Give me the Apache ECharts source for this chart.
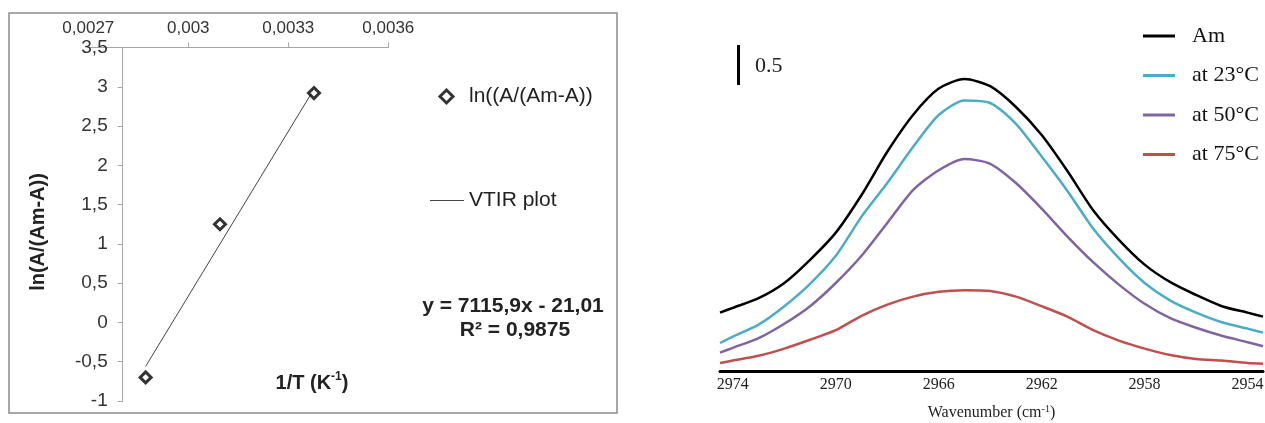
<!DOCTYPE html>
<html>
<head>
<meta charset="utf-8">
<script src="https://cdn.jsdelivr.net/npm/echarts@6/dist/echarts.min.js"></script>
<style>
html,body{margin:0;padding:0;background:#fff;}
#chart{width:1265px;height:423px;}
</style>
</head>
<body>
<div id="chart"></div>
<script>
// ---------- Left chart data (Arrhenius-type plot) ----------
const invT = [0.002872, 0.003095, 0.003377];
const lnRatio = [-0.70, 1.25, 2.92];
const trendX = [0.002872, 0.003377];
const trendY = [-0.56, 2.97];
const leftXTicks = [0.0027, 0.0030, 0.0033, 0.0036];
const leftXTickLabels = ['0,0027', '0,003', '0,0033', '0,0036'];
const leftYTickLabels = ['-1', '-0,5', '0', '0,5', '1', '1,5', '2', '2,5', '3', '3,5'];
const pointsName = 'ln((A/(Am-A))';
const trendName = 'VTIR plot';
const equationText = 'y = 7115,9x - 21,01';
const r2Text = 'R² = 0,9875';

// ---------- Right chart data (IR spectra) ----------
const wavenumber = [2974.5, 2974, 2973, 2972, 2971, 2970, 2969, 2968, 2967, 2966, 2965, 2964, 2963, 2962, 2961, 2960, 2959, 2958, 2957, 2956, 2955, 2954, 2953.4];
const absAm  = [0.73, 0.79, 0.91, 1.10, 1.39, 1.73, 2.20, 2.74, 3.20, 3.53, 3.65, 3.56, 3.30, 2.95, 2.50, 2.01, 1.64, 1.33, 1.11, 0.95, 0.81, 0.73, 0.68];
const abs23  = [0.35, 0.43, 0.58, 0.81, 1.09, 1.44, 1.93, 2.35, 2.80, 3.20, 3.38, 3.35, 3.09, 2.68, 2.25, 1.78, 1.41, 1.10, 0.88, 0.73, 0.61, 0.53, 0.48];
const abs50  = [0.23, 0.29, 0.41, 0.59, 0.81, 1.10, 1.44, 1.85, 2.26, 2.51, 2.65, 2.59, 2.35, 2.03, 1.68, 1.36, 1.08, 0.84, 0.66, 0.54, 0.44, 0.36, 0.31];
const abs75  = [0.10, 0.13, 0.19, 0.28, 0.39, 0.51, 0.69, 0.83, 0.93, 0.99, 1.01, 1.00, 0.93, 0.81, 0.68, 0.51, 0.38, 0.28, 0.20, 0.15, 0.13, 0.10, 0.09];
const spectraNames = ['Am', 'at 23°C', 'at 50°C', 'at 75°C'];
const rightXTicks = [2974, 2970, 2966, 2962, 2958, 2954];
const scaleBarX = 2973.8;
const scaleBarBottom = 3.575;
const scaleBarLength = 0.5;
const scaleBarLabel = '0.5';

const pair = (xs, ys) => xs.map((x, i) => [x, ys[i]]);

const chart = echarts.init(document.getElementById('chart'), null, {renderer: 'canvas'});
const sans = 'Liberation Sans, Arial, sans-serif';
const serif = 'Liberation Serif, Times New Roman, serif';
const axisGray = '#a6a6a6';

const option = {
  animation: false,
  backgroundColor: '#fff',
  grid: [
    {left: 88.3, top: 47.5, width: 300, height: 353.5, containLabel: false, outerBoundsMode: 'none'},
    {left: 720, top: 35, width: 543, height: 336, containLabel: false, outerBoundsMode: 'none'}
  ],
  xAxis: [
    {
      gridIndex: 0, type: 'value', position: 'top',
      min: 0.0027, max: 0.0036, interval: 0.0003,
      axisLine: {show: true, onZero: false, lineStyle: {color: axisGray, width: 1}},
      axisTick: {show: true, length: 5, customValues: leftXTicks.slice(1), lineStyle: {color: axisGray}},
      axisLabel: {
        fontFamily: sans, fontSize: 17, color: '#333', margin: 11,
        formatter: (v, i) => leftXTickLabels[i]
      },
      splitLine: {show: false}
    },
    {
      gridIndex: 1, type: 'value', inverse: true,
      min: 2953.4, max: 2974.5,
      axisLine: {show: true, onZero: false, lineStyle: {color: '#000', width: 3}},
      axisTick: {show: false},
      axisLabel: {customValues: rightXTicks, fontFamily: serif, fontSize: 16, color: '#222', margin: 6,
        formatter: v => String(v)},
      splitLine: {show: false},
      name: '{a|Wavenumber (cm}{s|-1}{a|)}',
      nameLocation: 'middle', nameGap: 33,
      nameTextStyle: {
        rich: {
          a: {fontFamily: serif, fontSize: 16, color: '#222', lineHeight: 18},
          s: {fontFamily: serif, fontSize: 10, color: '#222', verticalAlign: 'top', lineHeight: 12}
        }
      }
    }
  ],
  yAxis: [
    {
      gridIndex: 0, type: 'value', min: -1, max: 3.5, interval: 0.5, offset: -34.4,
      axisLine: {show: true, onZero: false, lineStyle: {color: axisGray, width: 1}},
      axisTick: {show: true, length: 5, lineStyle: {color: axisGray}},
      axisLabel: {fontFamily: sans, fontSize: 19, color: '#333', margin: 15,
        formatter: (v, i) => leftYTickLabels[i]},
      splitLine: {show: false}
    },
    {
      gridIndex: 1, type: 'value', min: 0, max: 4.2, show: false
    }
  ],
  legend: [
    {
      data: [pointsName],
      orient: 'vertical', left: 433.5, top: 81,
      itemWidth: 13, itemHeight: 13,
      selectedMode: false,
      itemStyle: {color: '#fff', borderColor: '#000', borderWidth: 3},
      textStyle: {fontFamily: sans, fontSize: 21, color: '#222', lineHeight: 20, padding: [0, 0, 0, 11]}
    },
    {
      data: [trendName],
      orient: 'vertical', left: 425, top: 185,
      icon: 'rect', itemWidth: 34, itemHeight: 1,
      selectedMode: false,
      textStyle: {fontFamily: sans, fontSize: 21, color: '#222', lineHeight: 20}
    },
    {
      data: spectraNames,
      orient: 'vertical', left: 1138, top: 20,
      icon: 'rect', itemWidth: 32, itemHeight: 3, itemGap: 17.5,
      selectedMode: false,
      textStyle: {fontFamily: serif, fontSize: 22, color: '#111', lineHeight: 22, padding: [0, 0, 0, 12]}
    }
  ],
  series: [
    {
      name: trendName, type: 'line', xAxisIndex: 0, yAxisIndex: 0,
      data: pair(trendX, trendY), symbol: 'none',
      lineStyle: {color: '#444', width: 1}, itemStyle: {color: '#444'}, z: 2
    },
    {
      name: pointsName, type: 'scatter', xAxisIndex: 0, yAxisIndex: 0,
      data: pair(invT, lnRatio), symbol: 'diamond', symbolSize: 11,
      itemStyle: {color: '#fff', borderColor: '#000', borderWidth: 3}, z: 3
    },
    {
      name: spectraNames[0], type: 'line', xAxisIndex: 1, yAxisIndex: 1,
      data: pair(wavenumber, absAm), symbol: 'none', smooth: 0.25,
      lineStyle: {color: '#000', width: 2.5}, itemStyle: {color: '#000'},
      markLine: {
        silent: true, symbol: 'none', animation: false,
        lineStyle: {color: '#000', width: 3, type: 'solid'},
        label: {show: false},
        data: [[{coord: [scaleBarX, scaleBarBottom]}, {coord: [scaleBarX, scaleBarBottom + scaleBarLength]}]]
      }
    },
    {
      name: spectraNames[1], type: 'line', xAxisIndex: 1, yAxisIndex: 1,
      data: pair(wavenumber, abs23), symbol: 'none', smooth: 0.25,
      lineStyle: {color: '#4aacc5', width: 2.5}, itemStyle: {color: '#4aacc5'}
    },
    {
      name: spectraNames[2], type: 'line', xAxisIndex: 1, yAxisIndex: 1,
      data: pair(wavenumber, abs50), symbol: 'none', smooth: 0.25,
      lineStyle: {color: '#8064a2', width: 2.5}, itemStyle: {color: '#8064a2'}
    },
    {
      name: spectraNames[3], type: 'line', xAxisIndex: 1, yAxisIndex: 1,
      data: pair(wavenumber, abs75), symbol: 'none', smooth: 0.25,
      lineStyle: {color: '#c0504d', width: 2.5}, itemStyle: {color: '#c0504d'}
    }
  ],
  graphic: [
    {type: 'rect', shape: {x: 9, y: 13, width: 608, height: 400},
     style: {fill: 'none', stroke: '#8c8c8c', lineWidth: 1.5}, silent: true, z: -1},
    {type: 'text', x: 38, y: 232, rotation: Math.PI / 2,
     style: {text: 'ln(A/(Am-A))', fontFamily: sans, fontSize: 20, fontWeight: 'bold', fill: '#222',
             textAlign: 'center', textVerticalAlign: 'middle'}},
    {type: 'text', x: 312, y: 383,
     style: {text: '{a|1/T (K}{s|-1}{a|)}', textAlign: 'center', textVerticalAlign: 'middle',
             rich: {
               a: {fontFamily: sans, fontSize: 20, fontWeight: 'bold', fill: '#222', lineHeight: 24},
               s: {fontFamily: sans, fontSize: 12, fontWeight: 'bold', fill: '#222', verticalAlign: 'top', lineHeight: 14}
             }}},
    {type: 'text', x: 513, y: 306,
     style: {text: equationText, fontFamily: sans, fontSize: 21, fontWeight: 'bold', fill: '#222',
             textAlign: 'center', textVerticalAlign: 'middle'}},
    {type: 'text', x: 515, y: 330,
     style: {text: r2Text, fontFamily: sans, fontSize: 21, fontWeight: 'bold', fill: '#222',
             textAlign: 'center', textVerticalAlign: 'middle'}},
    {type: 'text', x: 755, y: 66,
     style: {text: scaleBarLabel, fontFamily: serif, fontSize: 22, fill: '#222',
             textAlign: 'left', textVerticalAlign: 'middle'}}
  ]
};
chart.setOption(option);
</script>
</body>
</html>
